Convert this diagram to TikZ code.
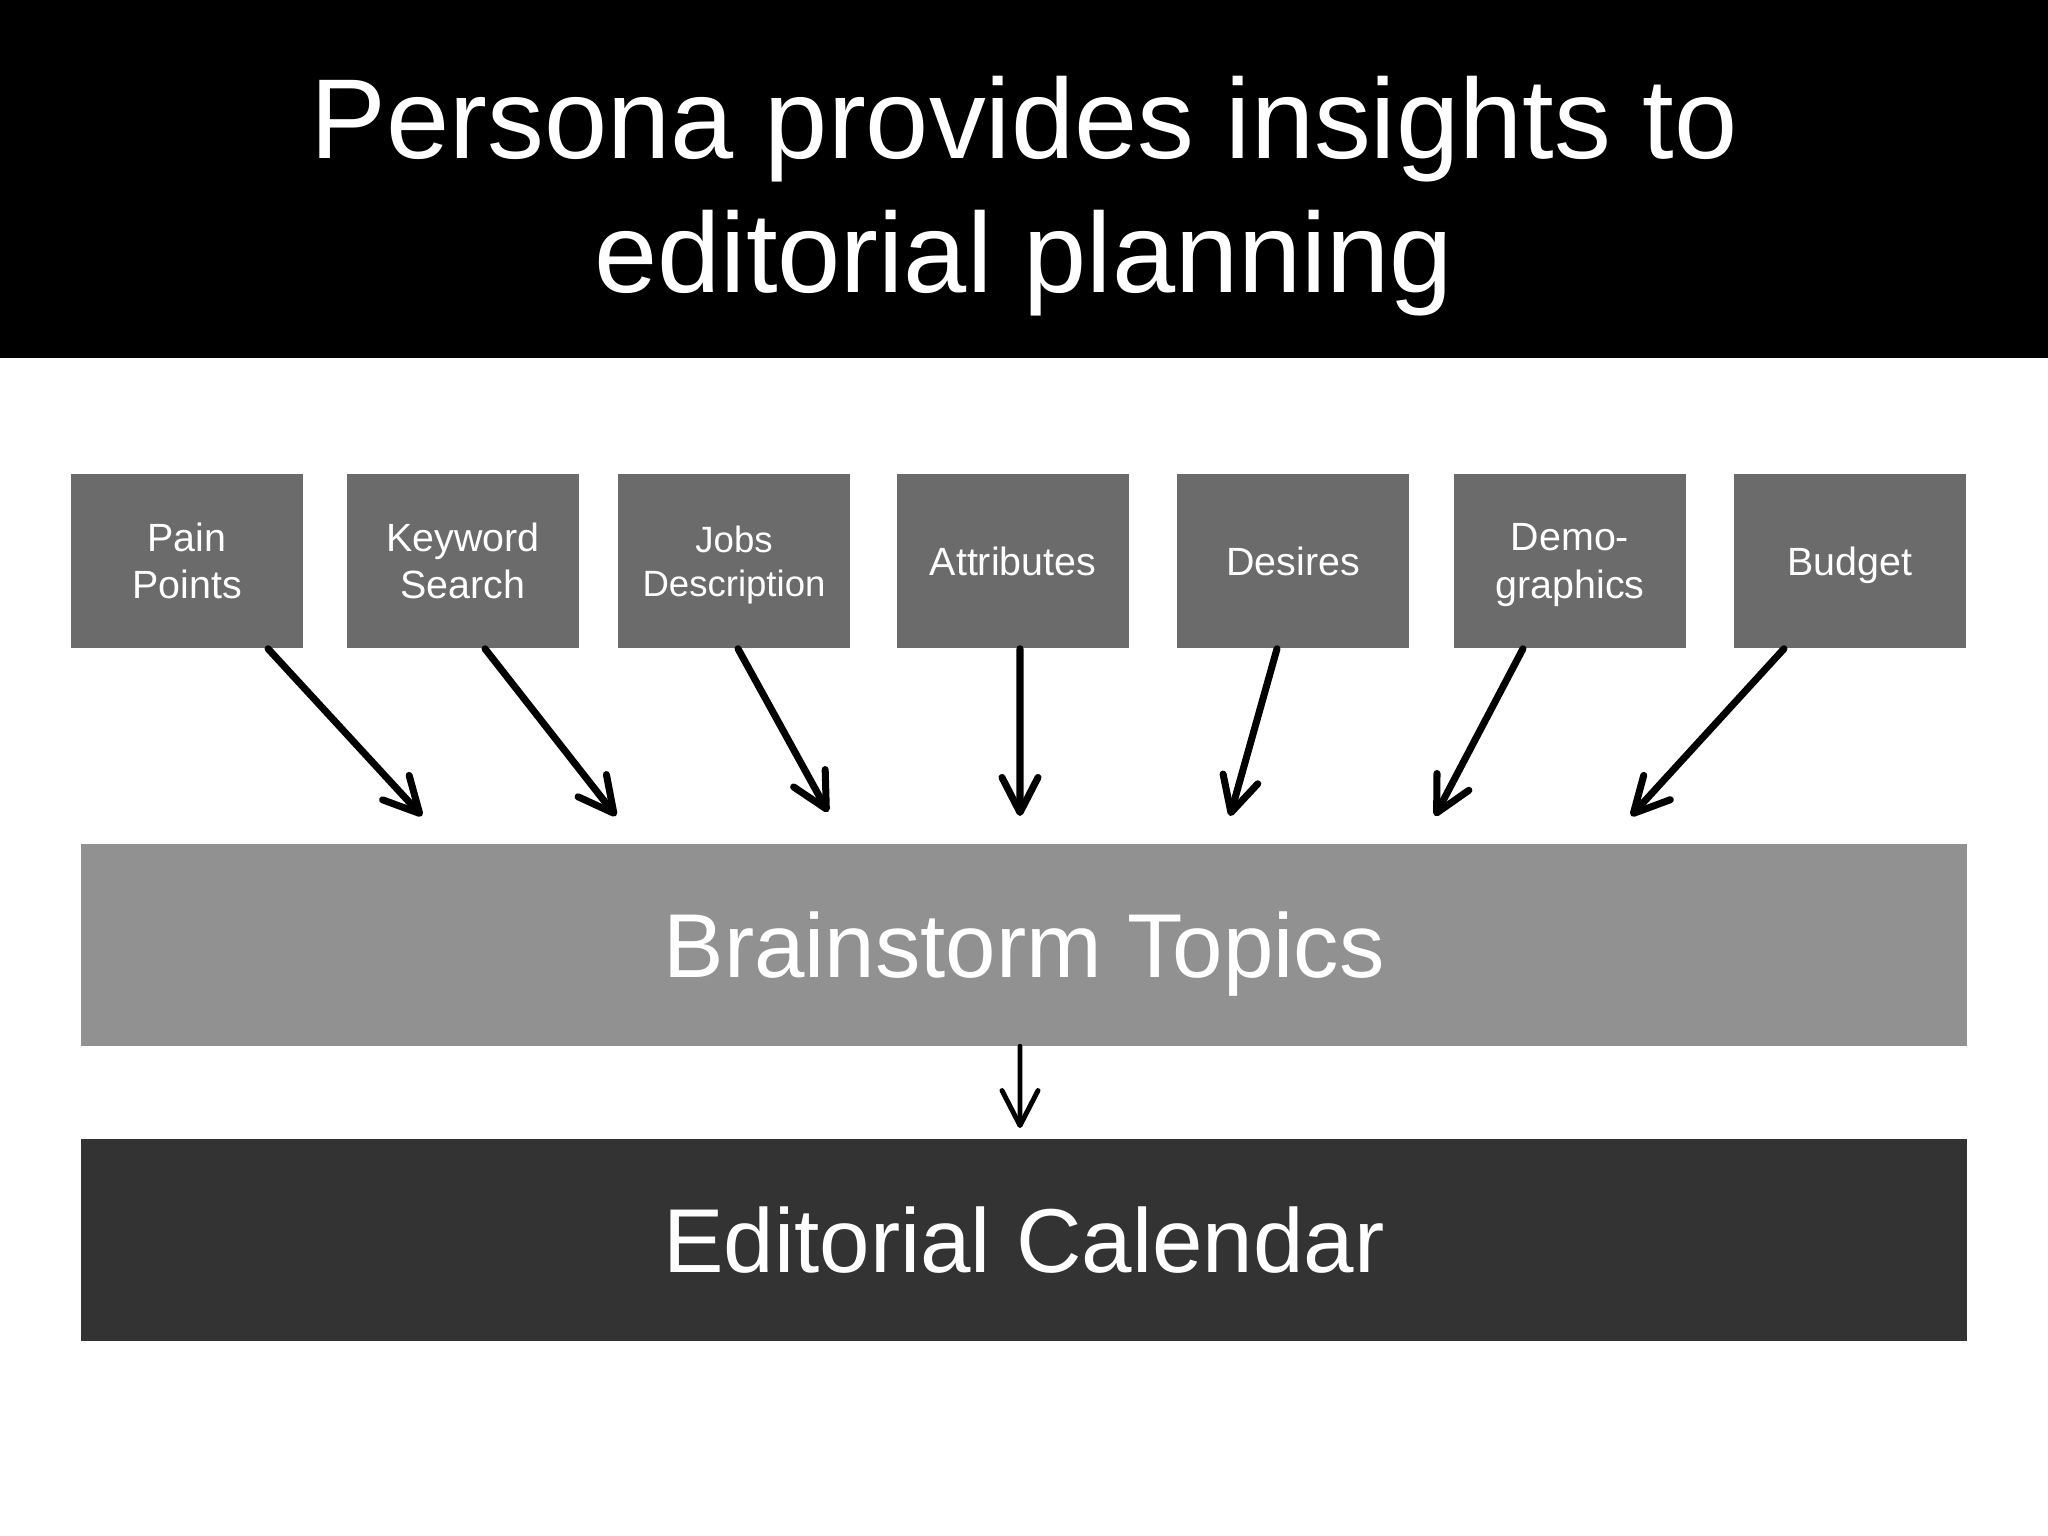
\documentclass[tikz,border=0pt]{standalone}
\usepackage{fontspec}
\setmainfont{Liberation Sans}
\usetikzlibrary{arrows.meta}
\definecolor{attrgray}{HTML}{6B6B6B}
\definecolor{stormgray}{HTML}{919191}
\definecolor{calgray}{HTML}{333333}

\begin{document}
\begin{tikzpicture}[x=0.01cm, y=-0.01cm,
	attr/.style={fill=attrgray, text=white, minimum width=2.32cm, minimum height=1.74cm, inner sep=0pt, align=center, font=\fontsize{11.2}{13.4}\selectfont},
	band/.style={minimum width=18.84cm, minimum height=2.01cm, inner sep=0pt, text=white, text height=18.5pt, text depth=0pt, font=\fontsize{25.8}{30}\selectfont},
	feed/.style={line width=2pt, line cap=round, -{Straight Barb[length=0.35cm, width=0.36cm, round]}}]
	\useasboundingbox (0,0) rectangle (2048,1536);
	\fill[black] (0,0) rectangle (2048,358);
	\draw (1024,196) node[text=white, align=center, inner sep=0pt, font=\fontsize{32.3}{37.9}\selectfont](title) {Persona provides insights to\\editorial planning};
	\draw (187,561) node[attr](pain) {Pain\\Points};
	\draw (463,561) node[attr](keyw) {Keyword\\Search};
	\draw (734,561) node[attr, text depth=0pt, font=\fontsize{10.4}{12.6}\selectfont](jobs) {Jobs\\Description};
	\draw (1013,561) node[attr](attrib) {Attributes};
	\draw (1293,561) node[attr](desire) {Desires};
	\draw (1570,561) node[attr, text depth=0pt](demo) {Demo-\\graphics};
	\draw (1850,561) node[attr, text depth=0pt](budget) {Budget};
	\draw (1024,945) node[band, fill=stormgray](storm) {Brainstorm Topics};
	\draw (1024,1240) node[band, fill=calgray](cal) {Editorial Calendar};
	% arrow tips above the brainstorm band
	\coordinate (t1) at (422,816);
	\coordinate (t2) at (616,816);
	\coordinate (t3) at (828,812);
	\coordinate (t4) at (1020,816);
	\coordinate (t5) at (1230,816);
	\coordinate (t6) at (1435,816);
	\coordinate (t7) at (1631,816);
	\coordinate (t8) at (1020,1128);
	\draw[feed] ([xshift=0.81cm]pain.south) -- (t1);
	\draw[feed] ([xshift=0.22cm]keyw.south) -- (t2);
	\draw[feed] ([xshift=0.04cm]jobs.south) -- (t3);
	\draw[feed] ([xshift=0.07cm]attrib.south) -- (t4);
	\draw[feed] ([xshift=-0.16cm]desire.south) -- (t5);
	\draw[feed] ([xshift=-0.47cm]demo.south) -- (t6);
	\draw[feed] ([xshift=-0.66cm]budget.south) -- (t7);
	\draw[feed, line width=1.4pt] ([xshift=-0.04cm]storm.south) -- (t8);
\end{tikzpicture}
\end{document}
